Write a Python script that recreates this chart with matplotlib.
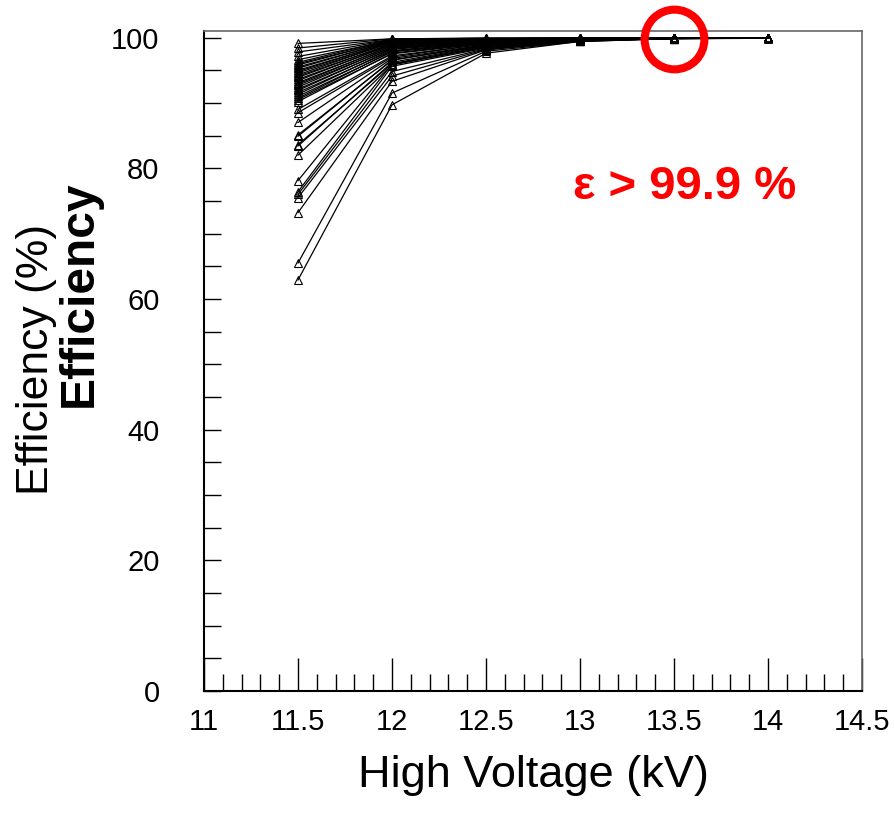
import matplotlib
matplotlib.use("Agg")
import matplotlib.pyplot as plt
from matplotlib.ticker import MultipleLocator

plt.rcParams['font.family'] = ['Liberation Sans', 'DejaVu Sans']

# High voltage points (kV)
hv = [11.5, 12.0, 12.5, 13.0, 13.5, 14.0]

# Efficiency (%) of each chamber at each HV point (one entry per chamber)
eff_115 = [99.1, 98.4, 97.8, 97.1, 96.6, 96.2, 96.0, 95.8, 95.5, 95.3,
           95.0, 94.8, 94.6, 94.3, 94.1, 93.9, 93.6, 93.4, 93.1, 92.9,
           92.7, 92.4, 92.1, 91.9, 91.6, 91.3, 91.0, 90.7, 90.5, 90.2,
           89.0, 88.5, 87.0, 85.1, 84.9, 83.6, 83.4, 82.0, 78.1, 76.4,
           76.0, 75.5, 73.2, 65.5, 62.9]
eff_120 = [99.8, 99.8, 99.7, 99.7, 99.6, 99.7, 99.5, 99.6, 99.4, 99.5,
           99.3, 99.4, 99.2, 99.3, 99.0, 99.1, 98.9, 99.0, 98.7, 98.8,
           98.5, 98.6, 98.3, 98.4, 98.0, 98.2, 97.8, 97.9, 97.5, 97.6,
           97.2, 97.0, 96.8, 96.5, 96.6, 96.0, 96.2, 95.8, 95.9, 95.6,
           94.8, 94.1, 93.3, 91.5, 89.7]
eff_125 = [99.9, 99.9, 99.8, 99.9, 99.8, 99.8, 99.8, 99.7, 99.8, 99.7,
           99.7, 99.7, 99.6, 99.7, 99.6, 99.6, 99.5, 99.6, 99.5, 99.5,
           99.4, 99.5, 99.4, 99.4, 99.3, 99.3, 99.2, 99.3, 99.1, 99.2,
           99.0, 99.1, 98.9, 98.9, 98.8, 98.7, 98.8, 98.6, 98.5, 98.4,
           98.3, 98.2, 98.1, 97.9, 97.6]
eff_130 = [99.95, 99.9, 99.9, 99.9, 99.9, 99.9, 99.9, 99.85, 99.9, 99.85,
           99.85, 99.85, 99.8, 99.85, 99.8, 99.8, 99.8, 99.8, 99.75, 99.8,
           99.75, 99.75, 99.7, 99.75, 99.7, 99.7, 99.7, 99.7, 99.65, 99.7,
           99.6, 99.65, 99.6, 99.6, 99.6, 99.55, 99.6, 99.55, 99.5, 99.55,
           99.5, 99.5, 99.45, 99.4, 99.4]
eff_135 = [99.97, 99.95, 99.95, 99.95, 99.95, 99.95, 99.95, 99.93, 99.95, 99.93,
           99.93, 99.93, 99.92, 99.93, 99.92, 99.92, 99.92, 99.92, 99.9, 99.92,
           99.9, 99.9, 99.9, 99.9, 99.9, 99.9, 99.88, 99.9, 99.88, 99.88,
           99.88, 99.88, 99.87, 99.87, 99.87, 99.86, 99.87, 99.86, 99.85, 99.86,
           99.85, 99.85, 99.85, 99.84, 99.84]
eff_140 = [99.98, 99.97, 99.97, 99.97, 99.97, 99.96, 99.97, 99.96, 99.96, 99.96,
           99.96, 99.95, 99.95, 99.95, 99.95, 99.95, 99.95, 99.94, 99.94, 99.94,
           99.94, 99.94, 99.93, 99.93, 99.93, 99.93, 99.93, 99.92, 99.92, 99.92,
           99.92, 99.92, 99.91, 99.91, 99.91, 99.91, 99.9, 99.9, 99.9, 99.9,
           99.9, 99.89, 99.89, 99.88, 99.88]

x_ticks = [11, 11.5, 12, 12.5, 13, 13.5, 14, 14.5]
x_ticklabels = ["11", "11.5", "12", "12.5", "13", "13.5", "14", "14.5"]
y_ticks = [0, 20, 40, 60, 80, 100]
y_ticklabels = ["0", "20", "40", "60", "80", "100"]

fig = plt.figure(figsize=(8.95, 8.23), dpi=100)
ax = fig.add_axes([204/895, 1 - 691/823, (862 - 204)/895, (691 - 31)/823])

series = list(zip(eff_115, eff_120, eff_125, eff_130, eff_135, eff_140))
for s in series:
    ax.plot(hv, s, color='black', lw=0.9, marker='^', ms=6,
            mfc='none', mec='black', mew=0.8, zorder=3)

ax.set_xlim(11, 14.5)
ax.set_ylim(0, 101)

ax.set_xticks(x_ticks)
ax.set_xticklabels(x_ticklabels)
ax.set_yticks(y_ticks)
ax.set_yticklabels(y_ticklabels)
ax.xaxis.set_minor_locator(MultipleLocator(0.1))
ax.yaxis.set_minor_locator(MultipleLocator(5))

ax.tick_params(axis='x', which='major', direction='in', length=24, width=1.0,
               labelsize=21, pad=12, top=False)
ax.tick_params(axis='x', which='minor', direction='in', length=12, width=1.0, top=False)
ax.tick_params(axis='y', which='major', direction='in', length=12, width=1.0,
               labelsize=21, pad=32, right=False)
ax.tick_params(axis='y', which='minor', direction='in', length=12, width=1.0, right=False)

for side in ['left', 'bottom']:
    ax.spines[side].set_color('black')
    ax.spines[side].set_linewidth(1.5)
for side in ['top', 'right']:
    ax.spines[side].set_color('#666666')
    ax.spines[side].set_linewidth(1.2)

# axis titles
fig.text(533/895, 1 - 775/823, "High Voltage (kV)", fontsize=32.5,
         ha='center', va='center')
fig.text(37/895, 1 - 359/823, "Efficiency (%)", fontsize=32,
         rotation=90, ha='center', va='center')
fig.text(79/895, 1 - 294/823, "Efficiency", fontsize=34.5, fontweight='bold',
         rotation=90, ha='center', va='center')

# annotation
ax.text(685/895, 1 - 187/823, "ε > 99.9 %", transform=fig.transFigure,
        color='red', fontsize=34, fontweight='bold', ha='center', va='center')
ax.plot([13.5], [99.7], marker='o', ms=43, mfc='none', mec='red', mew=5.8,
        clip_on=False, zorder=5)

fig.savefig("out.png", dpi=100)
